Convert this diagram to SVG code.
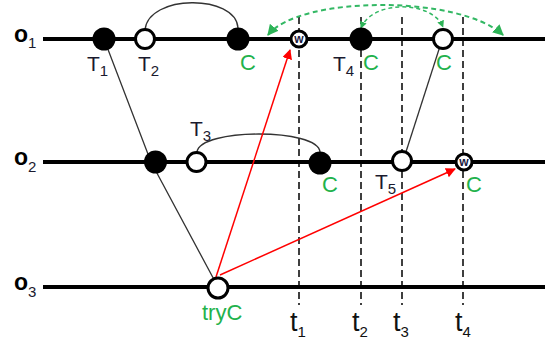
<svg xmlns="http://www.w3.org/2000/svg" width="547" height="345" viewBox="0 0 547 345">
<style>
.tl{stroke:#000;stroke-width:4;fill:none}
.dash{stroke:#000;stroke-width:1.5;stroke-dasharray:7,4;fill:none}
.thin{stroke:#333;stroke-width:1.3;fill:none}
.red{stroke:#f00;stroke-width:1.5;fill:none;marker-end:url(#ra)}
.grn{stroke:#33b864;stroke-width:2;stroke-dasharray:5,3.5;fill:none;marker-start:url(#ga);marker-end:url(#ga)}
.grn2{stroke:#33b864;stroke-width:1.5;stroke-dasharray:4,3;fill:none;marker-start:url(#gs);marker-end:url(#gs)}
.fill{fill:#000}
.hol{fill:#fff;stroke:#000;stroke-width:3}
.lbl{font-family:"Liberation Sans",Arial,sans-serif;font-size:21px;fill:#1a1a2e}
.sub{font-size:15px}
.c{font-family:"Liberation Sans",Arial,sans-serif;font-size:22px;fill:#22b24c}
.o{font-family:"Liberation Sans",Arial,sans-serif;font-size:23px;font-weight:bold;fill:#000}
.t{font-family:"Liberation Sans",Arial,sans-serif;font-size:27px;fill:#111}
.w{font-family:"Liberation Sans",Arial,sans-serif;font-size:12px;font-weight:bold;fill:#1a1a40;text-anchor:middle}
</style>
<defs>
<marker id="ra" viewBox="0 0 10 10" refX="9" refY="5" markerWidth="10" markerHeight="10" markerUnits="userSpaceOnUse" orient="auto"><path d="M0,0 L10,5 L0,10 Z" fill="#f00"/></marker>
<marker id="ga" viewBox="0 0 10 10" refX="9" refY="5" markerWidth="11" markerHeight="11" markerUnits="userSpaceOnUse" orient="auto-start-reverse"><path d="M0,0 L10,5 L0,10 Z" fill="#2db357"/></marker>
<marker id="gs" viewBox="0 0 10 10" refX="9" refY="5" markerWidth="7" markerHeight="7" markerUnits="userSpaceOnUse" orient="auto-start-reverse"><path d="M0,0 L10,5 L0,10 Z" fill="#2db357"/></marker>
</defs>

<g id="timelines">
<line class="tl" x1="43" y1="39" x2="545" y2="39"/>
<line class="tl" x1="43" y1="162" x2="545" y2="162"/>
<line class="tl" x1="43" y1="287" x2="545" y2="287"/>
<text class="o" x="14" y="42">o<tspan class="sub" font-weight="normal" dy="6" fill="#1a1a2e">1</tspan></text>
<text class="o" x="14" y="165">o<tspan class="sub" font-weight="normal" dy="7" fill="#1a1a2e">2</tspan></text>
<text class="o" x="14" y="290">o<tspan class="sub" font-weight="normal" dy="7" fill="#1a1a2e">3</tspan></text>
</g>

<g id="connectors">
<line class="dash" x1="299" y1="17" x2="299" y2="305"/>
<line class="dash" x1="361" y1="17" x2="361" y2="305"/>
<line class="dash" x1="402" y1="17" x2="402" y2="305"/>
<line class="dash" x1="463" y1="17" x2="463" y2="305"/>
<polyline class="thin" points="104,39 151,162 218,287"/>
<line class="thin" x1="442" y1="40" x2="404" y2="158"/>
<path class="thin" d="M145,30 C148,-6 236,-6 238,28"/>
<path class="thin" d="M197,152 C200,128 318,128 320,152"/>
<line class="red" x1="216" y1="277" x2="290" y2="50"/>
<line class="red" x1="220" y1="275" x2="455" y2="169"/>
<path class="grn" d="M268,35 C300,-5 460,-5 503,35"/>
<path class="grn2" d="M361,28 C372,0 432,0 443,27"/>
</g>

<g id="T1"><circle class="fill" cx="104" cy="39" r="11.5"/><text class="lbl" x="87" y="71">T<tspan class="sub" dy="5">1</tspan></text></g>
<g id="T2"><circle class="hol" cx="145" cy="39" r="9.5"/><text class="lbl" x="138" y="71">T<tspan class="sub" dy="5">2</tspan></text></g>
<g id="C1"><circle class="fill" cx="238" cy="39" r="11.5"/><text class="c" x="240" y="70">C</text></g>
<g id="W1"><circle class="hol" cx="299" cy="39" r="8"/><text class="w" x="299" y="43">w</text></g>
<g id="T4"><circle class="fill" cx="361" cy="39" r="11.5"/><text class="lbl" x="333" y="71">T<tspan class="sub" dy="5">4</tspan></text><text class="c" x="363" y="70">C</text></g>
<g id="C2"><circle class="hol" cx="443" cy="39" r="9.5"/><text class="c" x="436" y="70">C</text></g>

<g id="N21"><circle class="fill" cx="155.5" cy="162" r="11.5"/></g>
<g id="T3"><circle class="hol" cx="196.5" cy="162" r="9.5"/><text class="lbl" x="190" y="136">T<tspan class="sub" dy="5">3</tspan></text></g>
<g id="C3"><circle class="fill" cx="320" cy="163" r="11.5"/><text class="c" x="322" y="192">C</text></g>
<g id="T5"><circle class="hol" cx="402" cy="161" r="9.5"/><text class="lbl" x="375" y="189">T<tspan class="sub" dy="5">5</tspan></text></g>
<g id="W2"><circle class="hol" cx="464" cy="162" r="8"/><text class="w" x="464" y="166">w</text><text class="c" x="466" y="192">C</text></g>

<g id="tryC"><circle class="hol" cx="218" cy="288" r="10"/><text class="c" x="202" y="320" font-size="23">tryC</text></g>

<g id="tlabels">
<text class="t" x="290" y="331">t<tspan class="sub" font-size="16" dy="6">1</tspan></text>
<text class="t" x="352" y="331">t<tspan class="sub" font-size="16" dy="6">2</tspan></text>
<text class="t" x="393" y="331">t<tspan class="sub" font-size="16" dy="6">3</tspan></text>
<text class="t" x="455" y="331">t<tspan class="sub" font-size="16" dy="6">4</tspan></text>
</g>
</svg>
